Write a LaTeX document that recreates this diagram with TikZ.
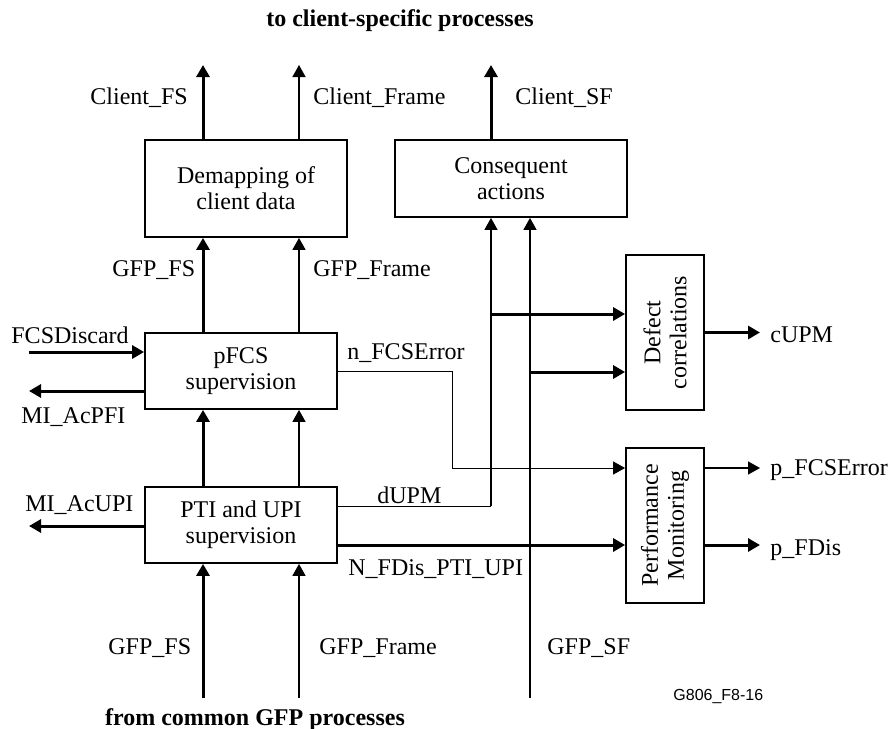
\documentclass[tikz,border=0pt]{standalone}
\usepackage{fontspec}
\setmainfont{Liberation Serif}
\newfontfamily\figsans{Liberation Sans}
\usetikzlibrary{arrows.meta,calc}

\begin{document}
\begin{tikzpicture}[x=0.5pt,y=-0.5pt]
  % GFP sink: client-specific supervision and consequent actions
  \tikzset{blk/.style={draw,line width=0.9pt,align=center,inner sep=0pt,font=\fontsize{12}{13}\selectfont},
    lbl/.style={inner sep=0pt,anchor=base west,font=\fontsize{12}{14}\selectfont},
    tip/.style={-{Triangle[length=6pt,width=6.5pt]}},
    sig/.style={tip,line width=1.5pt},
    thin sig/.style={tip,line width=0.7pt},
    hair/.style={line width=0.5pt}}
  \useasboundingbox (0,0) rectangle (888,728);
  \node[blk,minimum width=101pt,minimum height=48.5pt] (demap) at (246,188.5) {Demapping of\\client data};
  \node[blk,minimum width=116pt,minimum height=38.5pt] (conseq) at (511,178.5) {Consequent\\actions};
  \node[blk,minimum width=96pt,minimum height=38pt] (pfcs) at (241,371) {pFCS\\supervision};
  \node[blk,minimum width=96pt,minimum height=38pt] (pti) at (241,525) {PTI and UPI\\supervision};
  \node[blk,rotate=90,minimum width=77.5pt,minimum height=39pt] (defect) at (665,332.5) {Defect\\correlations};
  \node[blk,rotate=90,minimum width=77.5pt,minimum height=39pt] (perf) at (665,525.5) {Performance\\Monitoring};
  \coordinate (colA) at (203,0); \coordinate (colB) at (299,0);
  \coordinate (colC) at (491,0); \coordinate (colD) at (530,0);
  \coordinate (outtop) at (0,65); \coordinate (inbot) at (0,698); \coordinate (rgt) at (760,0);
  % up the left column
  \draw[sig] (demap.north -| colA) -- (outtop -| colA);
  \draw[thin sig] (demap.north -| colB) -- (outtop -| colB);
  \draw[sig] (conseq.north -| colC) -- (outtop -| colC);
  \foreach \a/\b in {pfcs/demap,pti/pfcs}{
    \draw[sig] (\a.north -| colA) -- (\b.south -| colA);
    \draw[thin sig] (\a.north -| colB) -- (\b.south -| colB);}
  \draw[sig] (inbot -| colA) -- (pti.south -| colA);
  \draw[thin sig] (inbot -| colB) -- (pti.south -| colB);
  % management side
  \coordinate (fcsd) at (29,352); \coordinate (acpfi) at (29,391); \coordinate (acupi) at (29,526);
  \draw[sig] (fcsd) -- (fcsd -| pfcs.west);
  \draw[sig] (acpfi -| pfcs.west) -- (acpfi);
  \draw[sig] (acupi -| pti.west) -- (acupi);
  % to the right-hand blocks
  \coordinate (errbend) at (452,371); \coordinate (errin) at (452,468);
  \draw[hair,tip] (pfcs.east) -- (errbend) -- (errin) -- (errin -| perf.north);
  \coordinate (dupm) at (491,506); \coordinate (defa) at (491,314); \coordinate (defb) at (530,372);
  \draw[hair] (pti.east |- dupm) -- (dupm);
  \draw[thin sig] (dupm) -- (conseq.south -| dupm);
  \draw[sig] (defa) -- (defa -| defect.north);
  \draw[thin sig] (inbot -| colD) -- (conseq.south -| colD);
  \draw[sig] (defb) -- (defb -| defect.north);
  \coordinate (fdisrow) at (0,545); \coordinate (fcsout) at (0,468);
  \draw[sig] (pti.east |- fdisrow) -- (perf.north |- fdisrow);
  \draw[sig] (defect.south) -- (defect.south -| rgt);
  \draw[thin sig] (perf.south |- fcsout) -- (rgt |- fcsout);
  \draw[sig] (perf.south |- fdisrow) -- (rgt |- fdisrow);
  % labels
  \node[lbl,anchor=base,font=\fontsize{12}{14}\selectfont\bfseries] (ttltop) at (400,26) {to client-specific processes};
  \node[lbl,anchor=base,font=\fontsize{12}{14}\selectfont\bfseries] (ttlbot) at (255,725) {from common GFP processes};
  \node[lbl] (lcfs) at (90,104) {Client\_FS};
  \node[lbl] (lcfr) at (313,104) {Client\_Frame};
  \node[lbl] (lcsf) at (515,104) {Client\_SF};
  \node[lbl] (lgfs) at (112,276) {GFP\_FS};
  \node[lbl] (lgfr) at (313,276) {GFP\_Frame};
  \node[lbl] (lfcsd) at (11,343) {FCSDiscard};
  \node[lbl] (lpfi) at (21,423) {MI\_AcPFI};
  \node[lbl] (lerr) at (347,359) {n\_FCSError};
  \node[lbl] (ldupm) at (377,503) {dUPM};
  \node[lbl] (lupi) at (25,511) {MI\_AcUPI};
  \node[lbl] (lfdis) at (348,575) {N\_FDis\_PTI\_UPI};
  \node[lbl] (lgfsin) at (108,654) {GFP\_FS};
  \node[lbl] (lgfrin) at (319,654) {GFP\_Frame};
  \node[lbl] (lgsf) at (547,654) {GFP\_SF};
  \node[lbl] (lcupm) at (770,342) {cUPM};
  \node[lbl] (lpfcs) at (770,475) {p\_FCSError};
  \node[lbl] (lpfdis) at (770,555) {p\_FDis};
  \node[lbl,font=\figsans\fontsize{8}{10}\selectfont] (lfig) at (673,700) {G806\_F8-16};
\end{tikzpicture}
\end{document}
